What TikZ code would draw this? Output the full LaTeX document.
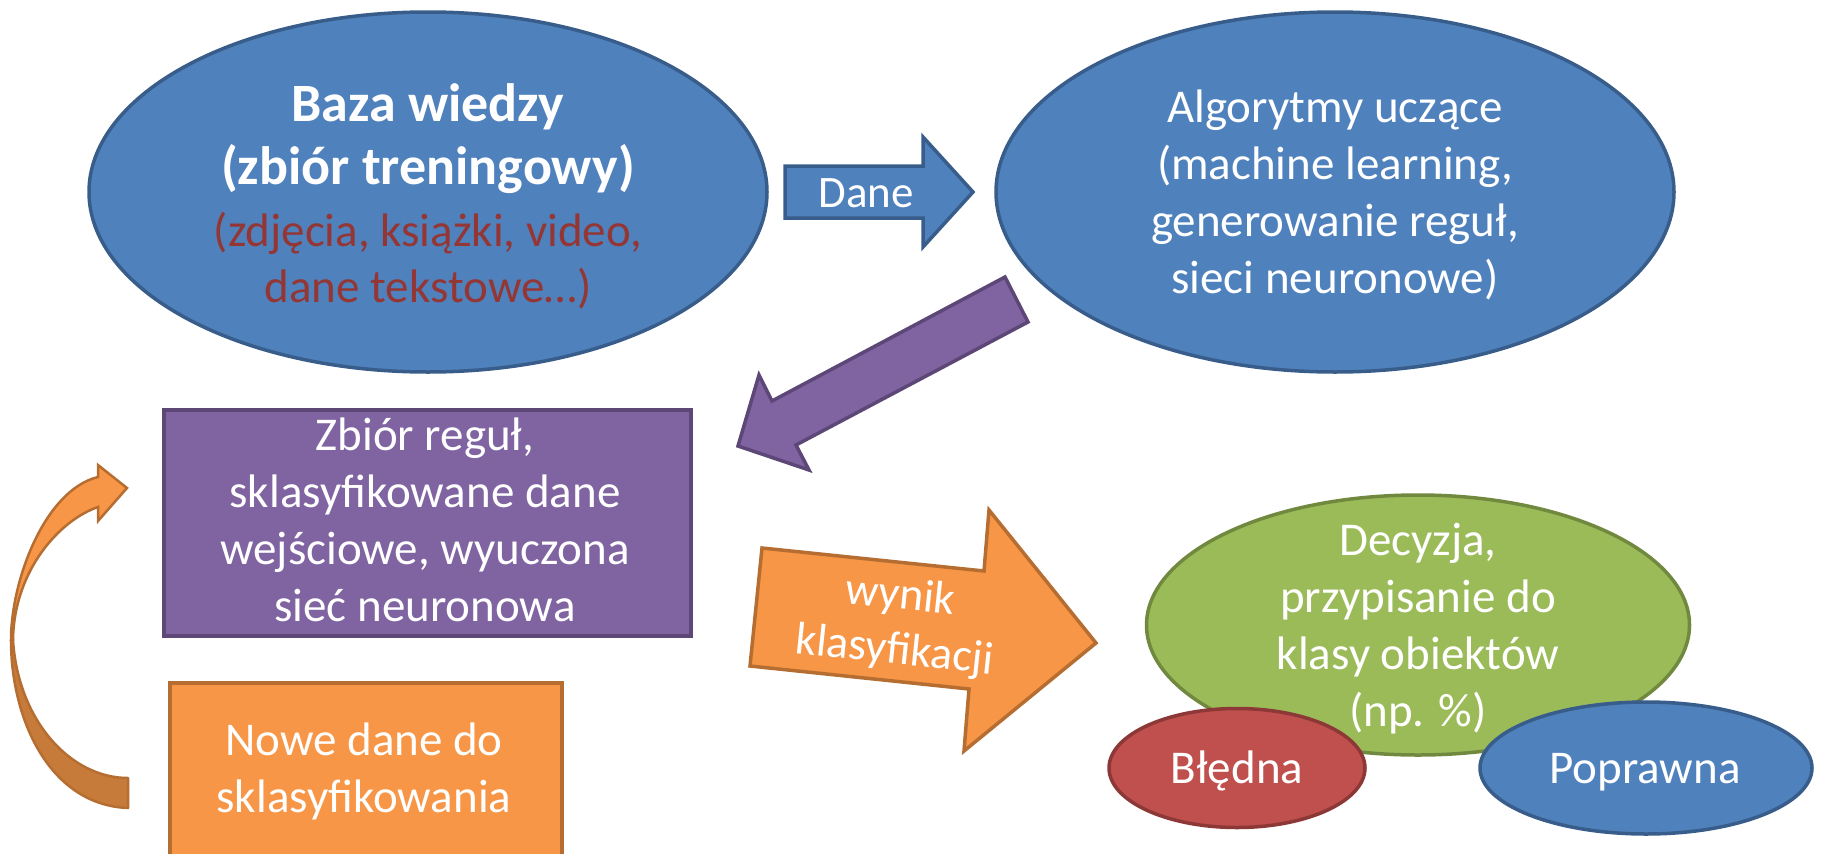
\documentclass[tikz,border=0pt]{standalone}
\usepackage{fontspec}
\setmainfont{Carlito}
\usetikzlibrary{shapes.geometric}
\definecolor{blueF}{HTML}{4F81BD}
\definecolor{blueD}{HTML}{385D8A}
\definecolor{purpleF}{HTML}{8064A2}
\definecolor{purpleD}{HTML}{5C4776}
\definecolor{orangeF}{HTML}{F79646}
\definecolor{orangeD}{HTML}{B66D31}
\definecolor{orangeU}{HTML}{C77B3A}
\definecolor{greenF}{HTML}{9BBB59}
\definecolor{greenD}{HTML}{71893F}
\definecolor{redF}{HTML}{C0504D}
\definecolor{redD}{HTML}{8C3836}
\definecolor{textRed}{HTML}{943634}
\newcommand{\tl}[1]{\begin{tabular}[t]{@{}c@{}}#1\end{tabular}}
\begin{document}
\begin{tikzpicture}[x=1pt,y=-1pt,
  ell/.style={ellipse, line width=3.5pt, inner sep=0pt},
  box/.style={line width=3.5pt, inner sep=0pt, anchor=north west},
  blk/.style={line width=3.5pt, line join=miter},
  txt/.style={text=white, inner sep=0pt, anchor=base, font=\fontsize{47}{57}\selectfont}]
\useasboundingbox (0,0) rectangle (1821,854);
\clip (0,0) rectangle (1821,854);

% top ellipses
\node[ell, fill=blueF, draw=blueD, minimum width=678pt, minimum height=360pt] (baza) at (428,192) {};
\node[ell, fill=blueF, draw=blueD, minimum width=678pt, minimum height=360pt] (alg) at (1335,192) {};
\node[txt, font=\fontsize{47}{63}\selectfont] (bazat) at (428,121) {\tl{{\bfseries\fontsize{54}{63}\selectfont Baza wiedzy}\\
  {\bfseries\fontsize{54}{63}\selectfont (zbiór treningowy)}\\[-1pt]
  \textcolor{textRed}{(zdjęcia, książki, video,}\\[-7pt]
  \textcolor{textRed}{dane tekstowe…)}}};
\node[txt] (algt) at (1335,122) {\tl{Algorytmy uczące\\(machine learning,\\generowanie reguł,\\sieci neuronowe)}};

% Dane arrow
\draw[blk, fill=blueF, draw=blueD] (785,166) -- (923,166) -- (923,137) -- (973,192) -- (923,247) -- (923,218) -- (785,218) -- cycle;
\node[txt, font=\fontsize{45}{54}\selectfont] (danet) at (866,207) {Dane};

% purple arrow
\draw[blk, fill=purpleF, draw=purpleD] (1005,277) -- (772,401) -- (759,375) -- (738,446) -- (809,470) -- (796,445) -- (1028,322) -- cycle;

% purple box
\node[box, fill=purpleF, draw=purpleD, minimum width=527pt, minimum height=226pt] (rules) at (162,408) {};
\node[txt] (rulest) at (425,450) {\tl{Zbiór reguł,\\sklasyfikowane dane\\wejściowe, wyuczona\\sieć neuronowa}};

% orange box
\node[box, fill=orangeF, draw=orangeD, minimum width=392pt, minimum height=230pt] (nowe) at (168,681) {};
\node[txt] (nowet) at (364,755) {\tl{Nowe dane do\\sklasyfikowania}};

% curved arrow
\draw[line width=2.5pt, fill=orangeU, draw=orangeD, line join=round]
  (11,640) .. controls (11,720) and (50,805) .. (128,808) -- (128,778)
  .. controls (70,778) and (18,720) .. (13,640) -- cycle;
\draw[line width=2.5pt, fill=orangeF, draw=orangeD, line join=miter]
  (11,640) .. controls (11,580) and (45,490) .. (98,477) -- (98,465) -- (127,488) -- (98,521) -- (98,507)
  .. controls (60,520) and (14,570) .. (13,640) -- cycle;

% orange arrow
\draw[blk, fill=orangeF, draw=orangeD] (762,548) -- (984,571) -- (989,510) -- (1096,643) -- (964,751) -- (969,689) -- (750,666) -- cycle;
\node[txt, rotate=-6, font=\fontsize{46}{55}\selectfont] (wynikt) at (899,609) {\tl{wynik\\klasyfikacji}};

% decision ellipses
\node[ell, fill=greenF, draw=greenD, minimum width=543pt, minimum height=260pt] (dec) at (1418,625) {};
\node[txt] (dect) at (1418,555) {\tl{Decyzja,\\przypisanie do\\klasy obiektów\\(np. \%)}};
\node[ell, fill=redF, draw=redD, minimum width=256pt, minimum height=119pt] (bledna) at (1237,768) {};
\node[txt] (bladt) at (1237,783) {Błędna};
\node[ell, fill=blueF, draw=blueD, minimum width=332pt, minimum height=132pt] (popr) at (1646,768) {};
\node[txt] (poprt) at (1645,783) {Poprawna};
\end{tikzpicture}
\end{document}
